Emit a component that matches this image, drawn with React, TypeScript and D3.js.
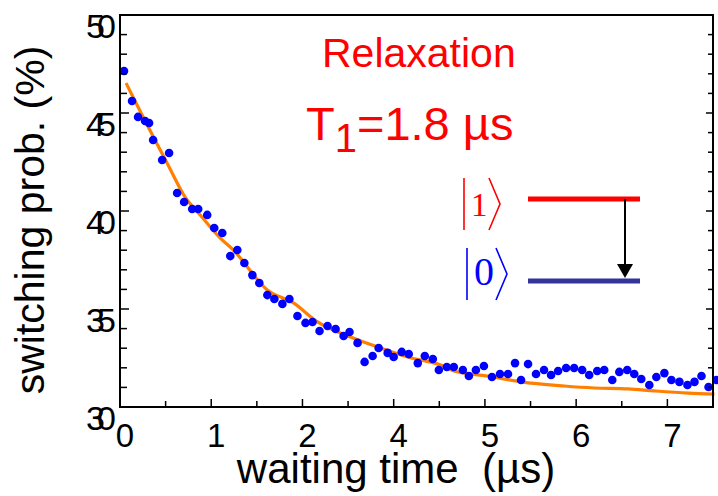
import React from "react";
import * as d3 from "d3";

// Waiting-time axis positions (tick units) and switching probability (%)
const timeValues = [
  0.044, 0.132, 0.198, 0.275, 0.319, 0.363, 0.462, 0.538, 0.626, 0.703,
  0.791, 0.857, 0.956, 1.033, 1.121, 1.209, 1.286, 1.363, 1.451, 1.527,
  1.615, 1.692, 1.78, 1.857, 1.945, 2.033, 2.11, 2.187, 2.275, 2.363,
  2.451, 2.516, 2.604, 2.681, 2.769, 2.835, 2.934, 3.0, 3.088, 3.165,
  3.264, 3.341, 3.429, 3.495, 3.582, 3.659, 3.758, 3.824, 3.901, 3.989,
  4.077, 4.165, 4.253, 4.33, 4.396, 4.473, 4.56, 4.648, 4.725, 4.802,
  4.89, 4.978, 5.066, 5.143, 5.231, 5.308, 5.396, 5.473, 5.56, 5.637,
  5.714, 5.802, 5.879, 5.967, 6.044, 6.132, 6.22, 6.297, 6.374, 6.451,
  6.538,
];
const switchingProb = [
  47.14, 45.61, 44.8, 44.59, 44.49, 43.62, 42.6, 42.96, 40.92, 40.46,
  40.1, 40.1, 39.8, 39.13, 38.88, 37.7, 38.01, 37.35, 36.73, 36.33,
  35.71, 35.51, 35.26, 35.51, 34.64, 34.29, 34.34, 33.88, 34.13, 33.98,
  33.62, 33.83, 33.27, 32.3, 32.6, 33.01, 32.76, 32.55, 32.81, 32.7,
  32.24, 32.6, 32.45, 31.89, 32.04, 32.04, 31.89, 31.58, 31.89, 32.09,
  31.53, 31.68, 31.68, 32.24, 31.38, 32.19, 31.68, 31.89, 31.63, 31.84,
  31.99, 31.99, 31.89, 31.63, 31.84, 31.89, 31.38, 31.79, 31.89, 31.68,
  31.43, 31.12, 31.53, 31.73, 31.38, 31.28, 31.12, 31.28, 31.58, 31.02,
  31.38,
];

// Exponential relaxation fit
const fitTime = [
  0.066, 0.22, 0.527, 0.714, 0.879, 1.099, 1.242, 1.615, 1.901, 2.165,
  2.527, 2.824, 3.154, 3.516, 3.659, 4.033, 4.396, 4.868, 5.198, 5.571,
  5.857, 6.231, 6.516,
];
const fitProb = [
  46.53, 45.1, 42.35, 40.71, 39.8, 38.62, 38.01, 35.97, 35.31, 34.34,
  33.57, 33.06, 32.55, 32.14, 31.84, 31.58, 31.28, 31.07, 30.97, 30.92,
  30.82, 30.71, 30.66,
];

const xTickValues = [0, 1, 2, 3, 4, 5, 6];
const xTickLabels = ["0", "1", "2", "4", "5", "6", "7"];
const yTickValues = [30, 35, 40, 45, 50];
const yTickLabels = ["30", "35", "40", "45", "50"];

const SANS = "'Liberation Sans', Arial, sans-serif";
const SERIF = "'Liberation Serif', 'Times New Roman', serif";

export default function App() {
  const x = d3.scaleLinear().domain([0, 6.5]).range([120, 713]);
  const y = d3.scaleLinear().domain([30, 50]).range([407, 15]);

  const fitLine = d3
    .line<number>()
    .x((_, i) => x(fitTime[i]))
    .y((d) => y(d))
    .curve(d3.curveMonotoneX)(fitProb) as string;

  const xMinor = d3.range(0, 6.5 + 1e-9, 0.5).filter((v) => v % 1 !== 0);
  const yAll = d3.range(30, 50.001, 1);

  const [x0, x1] = x.range();
  const [yb, yt] = y.range();

  return (
    <svg
      width={718}
      height={496}
      style={{ position: "absolute", left: 0, top: 0, background: "#fff" }}
    >
      {/* fit curve */}
      <path d={fitLine} fill="none" stroke="#ff8000" strokeWidth={3.2} />

      {/* measured points */}
      {switchingProb.map((v, i) => (
        <circle key={i} cx={x(timeValues[i])} cy={y(v)} r={4.3} fill="#0000ff" />
      ))}

      {/* frame */}
      <rect x={x0} y={yt} width={x1 - x0} height={yb - yt} fill="none" stroke="#000" strokeWidth={2} />

      {/* bottom ticks */}
      {xTickValues.map((v) => (
        <line key={"xm" + v} x1={x(v)} x2={x(v)} y1={yb} y2={yb - 8} stroke="#000" strokeWidth={1.5} />
      ))}
      {xMinor.map((v) => (
        <line key={"xn" + v} x1={x(v)} x2={x(v)} y1={yb} y2={yb - 6} stroke="#000" strokeWidth={1.5} />
      ))}

      {/* left and right ticks */}
      {yAll.map((v) => {
        const major = v % 5 === 0;
        return (
          <g key={"y" + v}>
            <line x1={x0} x2={x0 + (major ? 9 : 7)} y1={y(v)} y2={y(v)} stroke="#000" strokeWidth={1.5} />
            <line x1={x1} x2={x1 - (major ? 7 : 5)} y1={y(v)} y2={y(v)} stroke="#000" strokeWidth={1.5} />
          </g>
        );
      })}

      {/* x tick labels */}
      {xTickValues.map((v, i) => (
        <text key={"xl" + v} x={x(v) + 5} y={447} textAnchor="middle" fontFamily={SANS} fontSize={33} fill="#000">
          {xTickLabels[i]}
        </text>
      ))}

      {/* y tick labels (tightly overlapped digits) */}
      {yTickValues.map((v, i) => (
        <text key={"yl" + v} y={y(v) + 23} fontFamily={SANS} fontSize={34} fill="#000">
          {yTickLabels[i].split("").map((c, j) => (
            <tspan key={j} x={86 + j * 11}>
              {c}
            </tspan>
          ))}
        </text>
      ))}

      {/* axis titles */}
      <text
        x={396}
        y={483}
        textAnchor="middle"
        fontFamily={SANS}
        fontSize={42}
        fill="#000"
        style={{ whiteSpace: "pre" }}
      >
        {"waiting time  (µs)"}
      </text>
      <text
        transform="translate(44,220) rotate(-90)"
        textAnchor="middle"
        fontFamily={SANS}
        fontSize={41}
        fill="#000"
      >
        switching prob. (%)
      </text>

      {/* annotation */}
      <text x={322} y={67} fontFamily={SANS} fontSize={41} fill="#ff0000">
        Relaxation
      </text>
      <text x={306} y={140} fontFamily={SANS} fontSize={47} fill="#ff0000">
        T
        <tspan fontSize={40} dy={12}>1</tspan>
        <tspan dy={-12}>=1.8 µs</tspan>
      </text>

      {/* energy levels */}
      <line x1={528} x2={640} y1={199} y2={199} stroke="#ff0000" strokeWidth={5} />
      <line x1={528} x2={640} y1={281} y2={281} stroke="#333399" strokeWidth={5} />
      <line x1={625} x2={625} y1={199} y2={266} stroke="#000" strokeWidth={2} />
      <path d="M617,264 L633,264 L625,278 Z" fill="#000" />

      {/* |1> */}
      <line x1={464} x2={464} y1={178} y2={230} stroke="#ff0000" strokeWidth={1.6} />
      <text x={471} y={216} fontFamily={SERIF} fontSize={33} fill="#ff0000">1</text>
      <path d="M489,178 L500,204 L489,230" fill="none" stroke="#ff0000" strokeWidth={1.6} />

      {/* |0> */}
      <line x1={467} x2={467} y1={248} y2={300} stroke="#0000ff" strokeWidth={1.6} />
      <text x={474} y={285} fontFamily={SERIF} fontSize={40} fill="#0000ff">0</text>
      <path d="M496,248 L507,274 L496,300" fill="none" stroke="#0000ff" strokeWidth={1.6} />
    </svg>
  );
}
